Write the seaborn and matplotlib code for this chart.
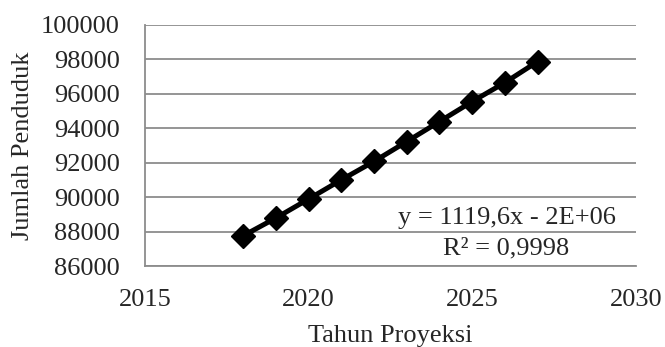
import matplotlib
matplotlib.use('Agg')
import matplotlib.pyplot as plt
import seaborn as sns
import pandas as pd

# projected population per year
years = [2018, 2019, 2020, 2021, 2022, 2023, 2024, 2025, 2026, 2027]
population = [87780, 88810, 89910, 91020, 92090, 93240, 94400, 95560, 96660, 97880]
y_ticks = [86000, 88000, 90000, 92000, 94000, 96000, 98000, 100000]
x_ticks = [2015, 2020, 2025, 2030]
equation = "y = 1119,6x - 2E+06"
r_squared = "R² = 0,9998"

df = pd.DataFrame({'Tahun': years, 'Jumlah': population})

sns.set_style('white')
plt.rcParams['font.family'] = ['Liberation Serif', 'DejaVu Serif']

fig, ax = plt.subplots(figsize=(6.65, 3.47), dpi=100)
fig.subplots_adjust(left=0.218, right=0.956, top=0.928, bottom=0.232)

sns.lineplot(data=df, x='Tahun', y='Jumlah', ax=ax, color='black', linewidth=3.6,
             marker='D', markersize=12.5, markeredgecolor='black', markeredgewidth=1)

ax.set_xlim(2015, 2030)
ax.set_ylim(86000, 100000)
ax.set_xticks(x_ticks)
ax.set_yticks(y_ticks)
ax.tick_params(axis='y', labelsize=19, length=0, pad=18)
ax.tick_params(axis='x', labelsize=19, length=0, pad=16)
ax.yaxis.grid(True, color='#8c8c8c', linewidth=1.3)
ax.xaxis.grid(False)
for side in ['top', 'right']:
    ax.spines[side].set_visible(False)
for side in ['left', 'bottom']:
    ax.spines[side].set_color('#8c8c8c')
    ax.spines[side].set_linewidth(1.3)

ax.set_xlabel('Tahun Proyeksi', fontsize=19, labelpad=10)
ax.set_ylabel('Jumlah Penduduk', fontsize=19, labelpad=5)

ax.text(2026.05, 88470, equation, fontsize=19, ha='center', va='baseline')
ax.text(2026.05, 86680, r_squared, fontsize=19, ha='center', va='baseline')

fig.savefig('out.png', dpi=100)
